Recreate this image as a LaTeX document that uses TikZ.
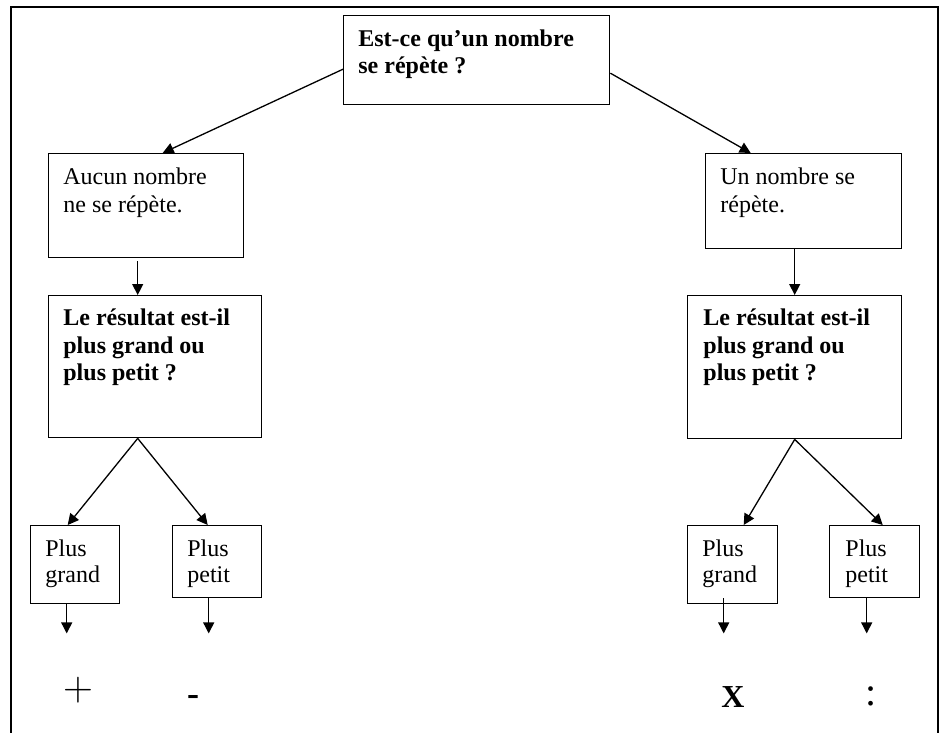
\documentclass[tikz,border=0pt]{standalone}
\usepackage{fontspec}
\setmainfont{Liberation Serif}
\usetikzlibrary{calc,arrows.meta}
\tikzset{
  box/.style={draw, line width=0.7pt, inner sep=0pt, anchor=north west},
  txt/.style={inner sep=0pt, anchor=north west, align=left, font=\fontsize{12}{14}\selectfont},
  txtb/.style={txt, font=\fontsize{12}{13.8}\selectfont\bfseries},
  txts/.style={txt, font=\fontsize{12}{13}\selectfont},
  arr/.style={line width=0.65pt, -{Triangle[length=5.5pt,width=5.5pt]}},
  frame/.style={line width=1pt},
  sym/.style={inner sep=0pt, anchor=center}
}
\newcommand{\fst}{\rule{0pt}{9pt}}
\begin{document}
\begin{tikzpicture}[x=0.5pt,y=-0.5pt]
\useasboundingbox (0,0) rectangle (943,733);
% frame
\draw[frame] (11,733) -- (11,7) -- (938,7) -- (938,733);
% boxes
\node[box, minimum width=133pt, minimum height=44.5pt] (top) at (343,15) {};
\node[box, minimum width=97.5pt, minimum height=52pt] (aucun) at (48,153) {};
\node[box, minimum width=98pt, minimum height=47.5pt] (unnb) at (705,153) {};
\node[box, minimum width=106.5pt, minimum height=71pt] (bigL) at (48,295) {};
\node[box, minimum width=107pt, minimum height=71.5pt] (bigR) at (687,295) {};
\node[box, minimum width=44.5pt, minimum height=39pt] (pgL) at (30,525) {};
\node[box, minimum width=44.5pt, minimum height=36pt] (ppL) at (172,525) {};
\node[box, minimum width=45pt, minimum height=39pt] (pgR) at (687,525) {};
\node[box, minimum width=45pt, minimum height=36pt] (ppR) at (829,525) {};
% texts
\node[txtb] (topt) at (358,28) {\fst Est-ce qu’un nombre\\se répète ?};
\node[txt] (aucunt) at (63,166) {\fst Aucun nombre\\ne se répète.};
\node[txt] (unnbt) at (720,166) {\fst Un nombre se\\répète.};
\node[txtb] (bigLt) at (63,307) {\fst Le résultat est-il\\plus grand ou\\plus petit ?};
\node[txtb] (bigRt) at (703,307) {\fst Le résultat est-il\\plus grand ou\\plus petit ?};
\node[txts] (pgLt) at (45,538) {\fst Plus\\grand};
\node[txts] (ppLt) at (187,538) {\fst Plus\\petit};
\node[txts] (pgRt) at (702,538) {\fst Plus\\grand};
\node[txts] (ppRt) at (845,538) {\fst Plus\\petit};
% result symbols
\node[sym, font=\fontsize{21}{23}\selectfont] (plus) at (78,690) {$+$};
\node[sym, font=\fontsize{18}{20}\selectfont\bfseries] (minus) at (193,700) {-};
\node[sym, font=\fontsize{16}{18}\selectfont\bfseries] (fois) at (733,697) {X};
\node[sym, font=\fontsize{20}{22}\selectfont] (div) at (871,696) {:};
% connectors
\draw[arr] ($(top.west)+(0,9)$) -- ($(aucun.north)+(16.5,0)$);
\draw[arr] ($(top.east)+(0,13)$) -- ($(unnb.north)+(-53,0)$);
\coordinate (a1) at ($(aucun.south)+(-8.5,3)$);
\draw[arr] (a1) -- (a1 |- bigL.north);
\coordinate (a2) at ($(unnb.south)+(-9,0)$);
\draw[arr] (a2) -- (a2 |- bigR.north);
\coordinate (ax) at ($(bigL.south)+(-17.5,0)$);
\draw[arr] (ax) -- ($(pgL.north)+(-7.5,0)$);
\draw[arr] (ax) -- ($(ppL.north)+(-9.5,0)$);
\coordinate (bx) at (bigR.south);
\draw[arr] (bx) -- ($(pgR.north)+(11,0)$);
\draw[arr] (bx) -- ($(ppR.north)+(8,0)$);
\coordinate (e1) at ($(pgL.south)+(-8.5,29)$);
\draw[arr] ($(pgL.south)+(-8.5,0)$) -- (e1);
\coordinate (e2) at ($(ppL.south)+(-8.5,35)$);
\draw[arr] ($(ppL.south)+(-8.5,0)$) -- (e2);
\coordinate (e3) at ($(pgR.south)+(-9,29)$);
\draw[arr] ($(pgR.south)+(-9,-6)$) -- (e3);
\coordinate (e4) at ($(ppR.south)+(-8,35)$);
\draw[arr] ($(ppR.south)+(-8,0)$) -- (e4);
\end{tikzpicture}
\end{document}
